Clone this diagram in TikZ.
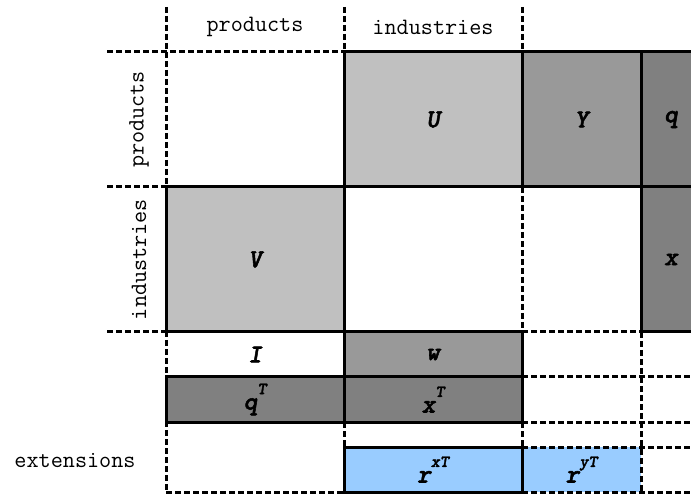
\documentclass[tikz,border=0pt]{standalone}
\usepackage{fontspec}
\newfontfamily\labelfont{lmmonolt10-boldoblique.otf}[FakeBold=2]
\definecolor{lightg}{HTML}{C0C0C0}
\definecolor{midg}{HTML}{999999}
\definecolor{darkg}{HTML}{808080}
\definecolor{lblue}{HTML}{99CCFF}
\newcommand{\sps}[1]{\raisebox{0.6em}{\fontsize{17}{17}\selectfont #1}}
\begin{document}
\begin{tikzpicture}[x=1pt,y=-1pt,
  gridline/.style={line width=3pt, dash pattern=on 6pt off 3pt},
  cellbox/.style={draw, line width=3pt, inner sep=0pt, font=\fontsize{26}{26}\labelfont},
  plain/.style={inner sep=0pt, font=\fontsize{23.5}{23.5}\ttfamily},
  tag/.style={inner sep=0pt, font=\fontsize{26}{26}\labelfont}]
\useasboundingbox (0,0) rectangle (691,494);
\clip (0,0) rectangle (691,494);
% dashed-bordered blue cell (fill only first)
\node[inner sep=0pt, fill=lblue, minimum width=119pt, minimum height=45pt] (ryT) at (581.5,469.5) {};
% dashed grid
\draw[gridline] (166,7) -- (166,492);
\draw[gridline] (344,7) -- (344,52);
\draw[gridline] (522,7) -- (522,52);
\draw[gridline] (107,52) -- (344,52);
\draw[gridline] (107,187) -- (166,187);
\draw[gridline] (107,332) -- (166,332);
\draw[gridline] (522,187) -- (522,332);
\draw[gridline] (344,422) -- (344,447);
\draw[gridline] (522,422) -- (522,447);
\draw[gridline] (641,332) -- (641,492);
\draw[gridline] (522,332) -- (700,332);
\draw[gridline] (522,377) -- (700,377);
\draw[gridline] (522,422) -- (700,422);
\draw[gridline] (522,447) -- (700,447);
\draw[gridline] (166,492) -- (344,492);
\draw[gridline] (522,492) -- (700,492);
% solid cells
\node[cellbox, fill=lightg, minimum width=178pt, minimum height=135pt] (U) at (433,119.5) {U};
\node[cellbox, fill=midg, minimum width=119pt, minimum height=135pt] (Y) at (581.5,119.5) {Y};
\node[cellbox, fill=darkg, minimum width=60pt, minimum height=135pt] (q) at (671,119.5) {q};
\node[cellbox, fill=lightg, minimum width=178pt, minimum height=145pt] (V) at (255,259.5) {V};
\node[cellbox, fill=darkg, minimum width=60pt, minimum height=145pt] (x) at (671,259.5) {x};
\node[tag] (I) at (255,354.5) {I};
\node[cellbox, fill=midg, minimum width=178pt, minimum height=45pt] (w) at (433,354.5) {w};
\node[cellbox, fill=darkg, minimum width=178pt, minimum height=45pt] (qT) at (255,399.5) {q\sps{T}};
\node[cellbox, fill=darkg, minimum width=178pt, minimum height=45pt] (xT) at (433,399.5) {x\sps{T}};
\node[cellbox, fill=lblue, minimum width=178pt, minimum height=45pt] (rxT) at (433,469.5) {r\sps{xT}};
\node[tag] at (ryT) {r\sps{yT}};
% labels
\node[plain] (lp) at (255,27) {products};
\node[plain] (li) at (433,27) {industries};
\node[plain, rotate=90] (rp) at (139,119.5) {products};
\node[plain, rotate=90] (ri) at (139,259.5) {industries};
\node[plain] (ext) at (75,461) {extensions};
\end{tikzpicture}
\end{document}
